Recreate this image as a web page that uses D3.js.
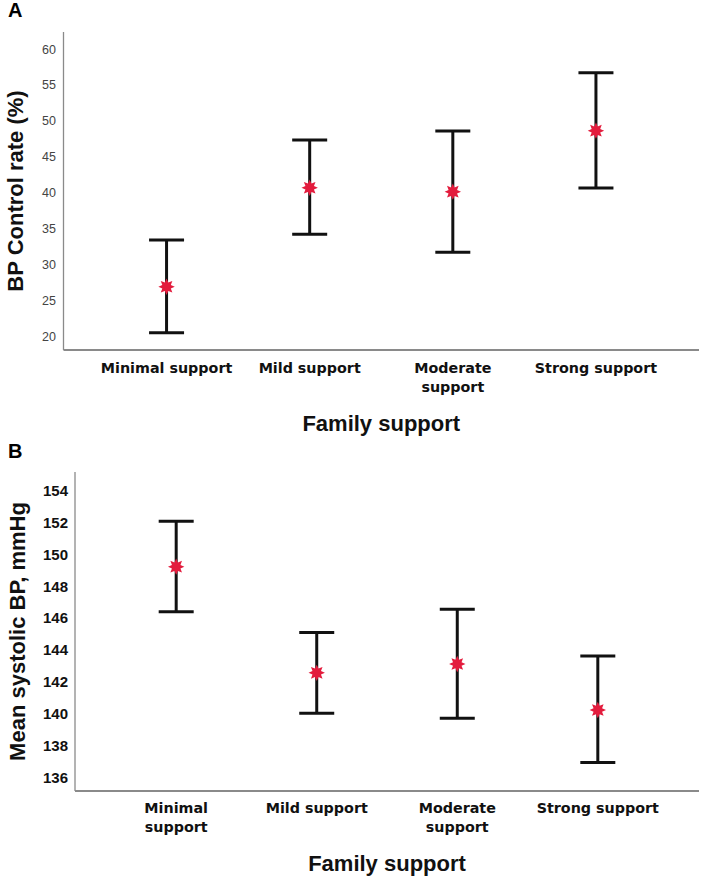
<!DOCTYPE html>
<html>
<head>
<meta charset="utf-8">
<script src="https://cdn.jsdelivr.net/npm/d3@7"></script>
<style>
  html, body { margin: 0; padding: 0; background: #fff; }
  svg { display: block; }
</style>
</head>
<body>
<svg id="chart" width="708" height="879"></svg>
<script>
// ---- Data ----
const categories = ["Minimal support", "Mild support", "Moderate support", "Strong support"];
const labelsA = [["Minimal support"], ["Mild support"], ["Moderate", "support"], ["Strong support"]];
const labelsB = [["Minimal", "support"], ["Mild support"], ["Moderate", "support"], ["Strong support"]];

const controlMean = [26.87, 40.67, 40.12, 48.62];
const controlLow  = [20.46, 34.17, 31.66, 40.63];
const controlHigh = [33.38, 47.32, 48.57, 56.70];

const sbpMean = [149.23, 142.56, 143.12, 140.23];
const sbpLow  = [146.40, 140.03, 139.71, 136.93];
const sbpHigh = [152.08, 145.09, 146.55, 143.62];

const ticksA = [20, 25, 30, 35, 40, 45, 50, 55, 60];
const ticksB = [136, 138, 140, 142, 144, 146, 148, 150, 152, 154];

const svg = d3.select("#chart");

// 8-pointed star path
function starPath(rOuter, rInner, points) {
  const pts = [];
  for (let i = 0; i < points * 2; i++) {
    const r = i % 2 === 0 ? rOuter : rInner;
    const a = (Math.PI / points) * i;
    pts.push([a, r]);
  }
  return d3.lineRadial().curve(d3.curveLinearClosed)(pts);
}
const STAR = starPath(8.2, 4.6, 8);

function panel(cfg) {
  const g = svg.append("g");
  const x = d3.scalePoint().domain(categories).range([cfg.left, cfg.right]).padding(0.72);
  const y = d3.scaleLinear().domain(cfg.domain).range(cfg.yRange);

  // axes frame lines
  g.append("line").attr("x1", cfg.left).attr("x2", cfg.left)
    .attr("y1", cfg.top).attr("y2", cfg.bottom)
    .attr("stroke", "#8a8a8a").attr("stroke-width", 1.3);
  g.append("line").attr("x1", cfg.left).attr("x2", cfg.right)
    .attr("y1", cfg.bottom).attr("y2", cfg.bottom)
    .attr("stroke", "#8a8a8a").attr("stroke-width", 2);

  // y axis tick labels
  const ax = g.append("g").attr("transform", `translate(${cfg.left},0)`)
    .call(d3.axisLeft(y).tickValues(cfg.ticks).tickSize(0).tickPadding(cfg.tickPad));
  ax.select(".domain").remove();
  ax.selectAll("text")
    .attr("font-family", cfg.tickFont)
    .attr("font-size", cfg.tickSize)
    .attr("font-weight", cfg.tickWeight)
    .attr("font-stretch", cfg.tickStretch || "normal")
    .attr("fill", cfg.tickColor);

  // error bars
  const capW = 35;
  const bars = g.append("g");
  categories.forEach((c, i) => {
    const cx = x(c);
    bars.append("line").attr("x1", cx).attr("x2", cx)
      .attr("y1", y(cfg.high[i])).attr("y2", y(cfg.low[i]))
      .attr("stroke", "#111").attr("stroke-width", 3);
    [cfg.high[i], cfg.low[i]].forEach(v => {
      bars.append("line").attr("x1", cx - capW / 2).attr("x2", cx + capW / 2)
        .attr("y1", y(v)).attr("y2", y(v))
        .attr("stroke", "#111").attr("stroke-width", 3);
    });
    bars.append("path").attr("d", STAR)
      .attr("transform", `translate(${cx},${y(cfg.mean[i])})`)
      .attr("fill", "#e31c3d");
  });

  // category labels
  categories.forEach((c, i) => {
    const t = g.append("text")
      .attr("x", x(c)).attr("y", cfg.catY)
      .attr("text-anchor", "middle")
      .attr("font-family", "'DejaVu Sans', Verdana, sans-serif")
      .attr("font-weight", "bold")
      .attr("font-size", 14.3)
      .attr("fill", "#111");
    cfg.labels[i].forEach((ln, k) => {
      t.append("tspan").attr("x", x(c)).attr("dy", k === 0 ? 0 : 19).text(ln);
    });
  });

  // x title
  g.append("text")
    .attr("x", (cfg.left + cfg.right) / 2).attr("y", cfg.xTitleY)
    .attr("text-anchor", "middle")
    .attr("font-family", "'Liberation Sans', Arial, sans-serif")
    .attr("font-weight", "bold").attr("font-size", 22)
    .attr("fill", "#111")
    .text("Family support");

  // y title
  g.append("text")
    .attr("transform", `translate(${cfg.yTitleX},${(cfg.top + cfg.bottom) / 2}) rotate(-90)`)
    .attr("text-anchor", "middle")
    .attr("font-family", "'Liberation Sans', Arial, sans-serif")
    .attr("font-weight", "bold").attr("font-size", 22)
    .attr("fill", "#111")
    .text(cfg.yTitle);

  // panel letter
  g.append("text")
    .attr("x", 8).attr("y", cfg.letterY)
    .attr("font-family", "'Liberation Sans', Arial, sans-serif")
    .attr("font-weight", "bold").attr("font-size", 20)
    .attr("fill", "#000")
    .text(cfg.letter);
}

panel({
  letter: "A", letterY: 17,
  left: 63.5, right: 699, top: 32, bottom: 350,
  domain: [20, 60], yRange: [336, 49], ticks: ticksA,
  tickPad: 7.5, tickFont: "'Liberation Sans', Arial, sans-serif", tickSize: 12.5,
  tickWeight: "normal", tickColor: "#444",
  mean: controlMean, low: controlLow, high: controlHigh,
  labels: labelsA, catY: 373, xTitleY: 431,
  yTitle: "BP Control rate (%)", yTitleX: 22.5
});

panel({
  letter: "B", letterY: 458,
  left: 75, right: 699, top: 472, bottom: 791,
  domain: [136, 154], yRange: [777.3, 490.7], ticks: ticksB,
  tickPad: 7, tickFont: "'Liberation Sans Narrow', 'Liberation Sans', Arial, sans-serif", tickSize: 15,
  tickWeight: "bold", tickStretch: "condensed", tickColor: "#111",
  mean: sbpMean, low: sbpLow, high: sbpHigh,
  labels: labelsB, catY: 813, xTitleY: 871,
  yTitle: "Mean systolic BP, mmHg", yTitleX: 24.5
});
</script>
</body>
</html>
